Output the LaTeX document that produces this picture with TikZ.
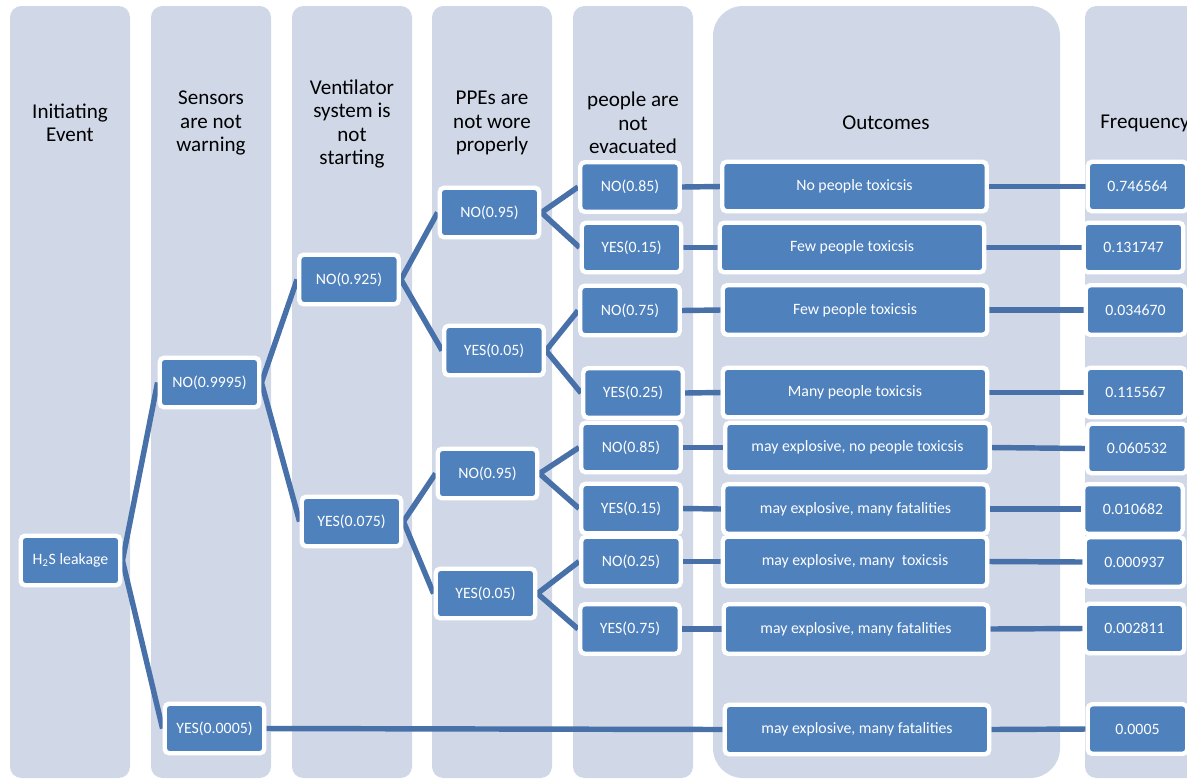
\documentclass[tikz,border=0pt]{standalone}
\usepackage{fontspec}
\setmainfont{Carlito}
\usepackage{xcolor}
\usepackage{tikz}
\pgfdeclarelayer{background}
\pgfdeclarelayer{lines}
\pgfsetlayers{background,lines,main}

\definecolor{colbg}{RGB}{208,216,232}
\definecolor{boxblue}{RGB}{79,129,189}
\definecolor{lineblue}{RGB}{71,113,168}

\begin{document}
\begin{tikzpicture}[x=0.02cm, y=-0.02cm]

        % one unit is one pixel of the original chart
        \def\hy{123}

        \tikzset{
            column/.style={fill=colbg, rounded corners=6.5pt},
            header/.style={align=center, font=\fontsize{12}{13.3}\selectfont},
            evbox/.style={fill=boxblue, draw=white, line width=2.5pt,
                rounded corners=2.5pt, text=white, inner sep=0pt,
                font=\fontsize{9}{10}\selectfont,
                minimum width=1.99cm, minimum height=0.99cm},
            outbox/.style={evbox, minimum width=5.29cm},
            branch/.style={color=lineblue, line width=3.1pt},
        }

        \useasboundingbox (0,0) rectangle (1187,779);

        % Columns behind the tree
        \begin{pgfonlayer}{background}
            \foreach \cx in {10,151,292,432,573}
                \fill[column] (\cx,6) rectangle ++(120,772);
            \fill[column, rounded corners=17pt] (713,6) rectangle (1060,778);
            \fill[column] (1085,6) rectangle (1215,778);
        \end{pgfonlayer}

        % Headers
        \node[header] (hInit) at (70,\hy)   {Initiating\\Event};
        \node[header] (hSens) at (211,\hy)  {Sensors\\are not\\warning};
        \node[header] (hVent) at (352,\hy+1) {Ventilator\\system is\\not\\starting};
        \node[header] (hPPE)  at (492,\hy)  {PPEs are\\not wore\\properly};
        \node[header] (hEvac) at (633,\hy)  {people are\\not\\evacuated};
        \node[header] (hOut)  at (886,\hy)  {Outcomes};
        \node[header] (hFreq) at (1145,\hy) {Frequency};

        % Event tree
        \node[evbox] (leak) at (70.5,560.5)  {H\textsubscript{2}S leakage};
        \node[evbox] (sN)   at (209.5,382.5) {NO(0.9995)};
        \node[evbox] (sY)   at (214.5,728.5) {YES(0.0005)};

        \node[evbox] (vN)   at (349,279.5)   {NO(0.925)};
        \node[evbox] (vY)   at (351.5,521.5) {YES(0.075)};

        \node[evbox] (pNN)  at (489.5,212.5) {NO(0.95)};
        \node[evbox] (pNY)  at (494,350.5)   {YES(0.05)};
        \node[evbox] (pYN)  at (487.5,473.5) {NO(0.95)};
        \node[evbox] (pYY)  at (485.5,593.5) {YES(0.05)};

        \node[evbox] (e1)   at (630,187)     {NO(0.85)};
        \node[evbox] (e2)   at (631.5,247.5) {YES(0.15)};
        \node[evbox] (e3)   at (630,310.5)   {NO(0.75)};
        \node[evbox] (e4)   at (633,393)     {YES(0.25)};
        \node[evbox] (e5)   at (631,447.5)   {NO(0.85)};
        \node[evbox] (e6)   at (631,508.5)   {YES(0.15)};
        \node[evbox] (e7)   at (631,561.5)   {NO(0.25)};
        \node[evbox] (e8)   at (630,629)     {YES(0.75)};

        % Outcomes
        \node[outbox] (o1) at (854.5,186.5) {No people toxicsis};
        \node[outbox] (o2) at (852,247.5)   {Few people toxicsis};
        \node[outbox] (o3) at (855,310)     {Few people toxicsis};
        \node[outbox] (o4) at (855,392.5)   {Many people toxicsis};
        \node[outbox] (o5) at (857.5,447.5) {may explosive, no people toxicsis};
        \node[outbox] (o6) at (855.5,509)   {may explosive, many fatalities};
        \node[outbox] (o7) at (855,561.5)   {may explosive, many~ toxicsis};
        \node[outbox] (o8) at (856,629)     {may explosive, many fatalities};
        \node[outbox] (o9) at (857,729.5)   {may explosive, many fatalities};

        % Frequencies
        \node[evbox] (f1) at (1137.5,186.5) {0.746564};
        \node[evbox] (f2) at (1133.5,247.5) {0.131747};
        \node[evbox] (f3) at (1135.5,310)   {0.034670};
        \node[evbox] (f4) at (1135.5,392.5) {0.115567};
        \node[evbox] (f5) at (1137,448.5)   {0.060532};
        \node[evbox] (f6) at (1133,509)     {0.010682};
        \node[evbox] (f7) at (1134.5,562)   {0.000937};
        \node[evbox] (f8) at (1134.5,628.5) {0.002811};
        \node[evbox] (f9) at (1137.5,729)   {0.0005};

        \begin{pgfonlayer}{lines}
        \begin{scope}[branch]
            \foreach \a/\b in {leak/sN, leak/sY, sN/vN, sN/vY,
                    vN/pNN, vN/pNY, vY/pYN, vY/pYY,
                    pNN/e1, pNN/e2, pNY/e3, pNY/e4,
                    pYN/e5, pYN/e6, pYY/e7, pYY/e8}
                \draw (\a.east) -- (\b.west);
            \foreach \i in {1,...,8}
                \draw (e\i.east) -- (o\i.west);
            \draw (sY.east) -- (o9.west);
            \foreach \i in {1,...,9}
                \draw (o\i.east) -- (f\i.west);
        \end{scope}
        \end{pgfonlayer}

\end{tikzpicture}
\end{document}
